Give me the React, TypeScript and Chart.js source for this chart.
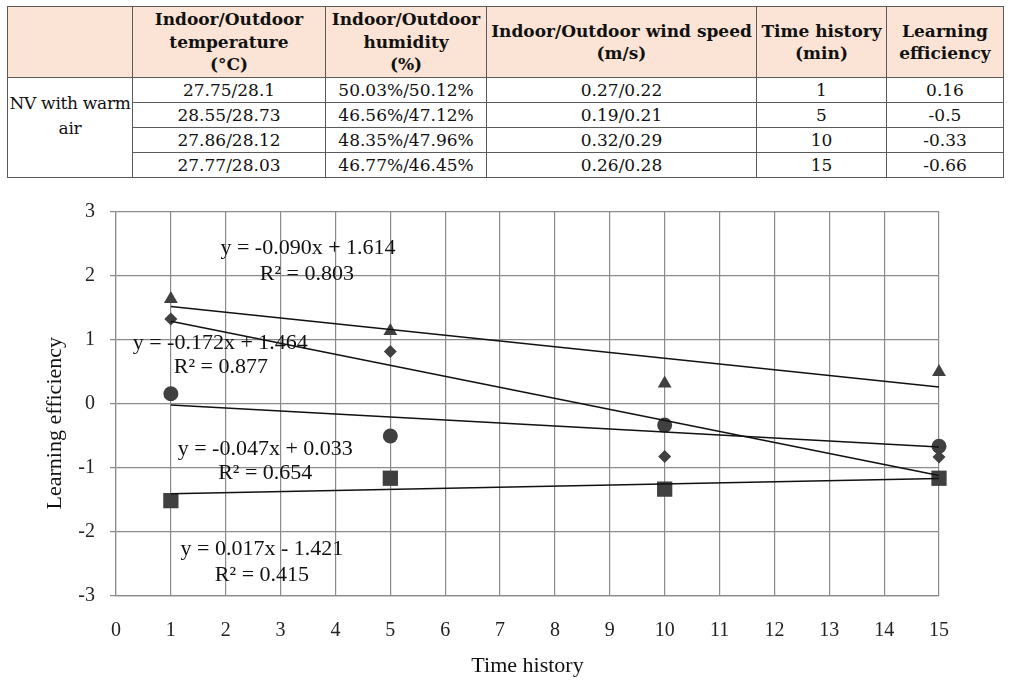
import React, { useEffect, useRef } from "react";
import { Chart, registerables } from "chart.js";

Chart.register(...registerables);

// ---------- Table data ----------
const tableHeaders = [
  "",
  "Indoor/Outdoor\ntemperature\n(°C)",
  "Indoor/Outdoor\nhumidity\n(%)",
  "Indoor/Outdoor wind speed\n(m/s)",
  "Time history\n(min)",
  "Learning\nefficiency",
];
const conditionLabel = ["NV with warm", "air"];
const temperatureValues = ["27.75/28.1", "28.55/28.73", "27.86/28.12", "27.77/28.03"];
const humidityValues = ["50.03%/50.12%", "46.56%/47.12%", "48.35%/47.96%", "46.77%/46.45%"];
const windSpeedValues = ["0.27/0.22", "0.19/0.21", "0.32/0.29", "0.26/0.28"];
const timeHistoryValues = ["1", "5", "10", "15"];
const efficiencyValues = ["0.16", "-0.5", "-0.33", "-0.66"];

// ---------- Chart data ----------
const timeHistory = [1, 5, 10, 15];
const triangleValues = [1.64, 1.14, 0.32, 0.5];
const diamondValues = [1.33, 0.82, -0.82, -0.83];
const circleValues = [0.16, -0.5, -0.33, -0.66];
const squareValues = [-1.51, -1.16, -1.33, -1.16];

const trendSlopes = [-0.09, -0.172, -0.047, 0.017];
const trendIntercepts = [1.614, 1.464, 0.033, -1.421];
const trendRange = [1, 15];

const equationTexts = [
  "y = -0.090x + 1.614",
  "R² = 0.803",
  "y = -0.172x + 1.464",
  "R² = 0.877",
  "y = -0.047x + 0.033",
  "R² = 0.654",
  "y = 0.017x - 1.421",
  "R² = 0.415",
];
// label anchor positions, in data units
const equationX = [3.5, 3.48, 1.9, 1.91, 2.72, 2.72, 2.66, 2.66];
const equationY = [2.44, 2.03, 0.95, 0.58, -0.7, -1.08, -2.27, -2.67];

const xTitle = "Time history";
const yTitle = "Learning efficiency";

const MARK = "#404040";
const GRID = "#8a8a8a";
const SERIF = '"Liberation Serif", "Times New Roman", serif';

const toPoints = (vals: number[]) => timeHistory.map((t, i) => ({ x: t, y: vals[i] }));
const trendPoints = (k: number) =>
  trendRange.map((t) => ({ x: t, y: trendSlopes[k] * t + trendIntercepts[k] }));

const labelPlugin = {
  id: "eqLabels",
  afterDatasetsDraw(chart: any) {
    const { ctx, scales, chartArea } = chart;
    const xs = scales.x;
    const ys = scales.y;
    ctx.save();
    ctx.fillStyle = "#111";
    ctx.textAlign = "center";
    ctx.textBaseline = "middle";
    ctx.font = `22px ${SERIF}`;
    equationTexts.forEach((t, i) => {
      ctx.fillText(t, xs.getPixelForValue(equationX[i]), ys.getPixelForValue(equationY[i]));
    });
    ctx.translate(chartArea.left - 61, ys.getPixelForValue(-0.3));
    ctx.rotate(-Math.PI / 2);
    ctx.fillText(yTitle, 0, 0);
    ctx.restore();
  },
};

function ScatterChart() {
  const ref = useRef<HTMLCanvasElement | null>(null);
  useEffect(() => {
    if (!ref.current) return;
    const trendStyle = {
      type: "line" as const,
      showLine: true,
      borderColor: "#111",
      borderWidth: 1.5,
      pointRadius: 0,
      fill: false,
      clip: false,
    };
    const markStyle = {
      backgroundColor: MARK,
      borderColor: MARK,
      borderWidth: 0,
      clip: false,
    };
    const chart = new Chart(ref.current, {
      type: "scatter",
      data: {
        datasets: [
          { ...trendStyle, label: "trend triangle", data: trendPoints(0) },
          { ...trendStyle, label: "trend diamond", data: trendPoints(1) },
          { ...trendStyle, label: "trend circle", data: trendPoints(2) },
          { ...trendStyle, label: "trend square", data: trendPoints(3) },
          { ...markStyle, label: "triangle", data: toPoints(triangleValues), pointStyle: "triangle", pointRadius: 8 },
          { ...markStyle, label: "diamond", data: toPoints(diamondValues), pointStyle: "rectRot", pointRadius: 6.5 },
          { ...markStyle, label: "circle", data: toPoints(circleValues), pointStyle: "circle", pointRadius: 7.5 },
          { ...markStyle, label: "square", data: toPoints(squareValues), pointStyle: "rect", pointRadius: 10.8 },
        ],
      },
      options: {
        animation: false,
        responsive: false,
        layout: { padding: { top: 27, right: 72, left: 0, bottom: 0 } },
        plugins: {
          legend: { display: false },
          tooltip: { enabled: false },
        },
        scales: {
          x: {
            type: "linear",
            min: 0,
            max: 15,
            ticks: {
              stepSize: 1,
              padding: 23,
              color: "#222",
              font: { family: SERIF, size: 20 },
            },
            grid: { color: GRID, lineWidth: 1.2, drawTicks: false },
            border: { color: GRID, width: 1.2 },
            title: {
              display: true,
              text: xTitle,
              color: "#111",
              font: { family: SERIF, size: 22 },
              padding: { top: 0, bottom: 6 },
            },
            afterFit: (s: any) => {
              s.height = 89;
            },
          },
          y: {
            type: "linear",
            min: -3,
            max: 3,
            ticks: {
              stepSize: 1,
              padding: 15,
              color: "#222",
              font: { family: SERIF, size: 20 },
            },
            grid: { color: GRID, lineWidth: 1.2, tickLength: 6 },
            border: { color: GRID, width: 1.2 },
            afterFit: (s: any) => {
              s.width = 116;
            },
          },
        },
      },
      plugins: [labelPlugin],
    } as any);
    return () => chart.destroy();
  }, []);
  return (
    <canvas
      ref={ref}
      width={1011}
      height={500}
      style={{ position: "absolute", left: 0, top: 185, width: 1011, height: 500 }}
    />
  );
}

const colWidths = [125, 193, 161, 270, 130, 117];

const cellBase: React.CSSProperties = {
  border: "1px solid #5a5a5a",
  padding: 0,
  textAlign: "center",
  verticalAlign: "middle",
};

export default function App() {
  const rows = temperatureValues.map((_, i) => [
    temperatureValues[i],
    humidityValues[i],
    windSpeedValues[i],
    timeHistoryValues[i],
    efficiencyValues[i],
  ]);
  return (
    <div
      style={{
        position: "absolute",
        left: 0,
        top: 0,
        width: 1011,
        height: 685,
        overflow: "hidden",
        background: "#fff",
      }}
    >
      <table
        style={{
          position: "absolute",
          left: 7,
          top: 6,
          width: 996,
          borderCollapse: "collapse",
          tableLayout: "fixed",
          fontFamily: '"DejaVu Serif", serif',
          fontSize: 17,
          color: "#111",
        }}
      >
        <colgroup>
          {colWidths.map((w, i) => (
            <col key={i} style={{ width: w }} />
          ))}
        </colgroup>
        <thead>
          <tr style={{ height: 71, background: "#fbe4d5" }}>
            {tableHeaders.map((h, i) => (
              <th
                key={i}
                style={{ ...cellBase, fontWeight: "bold", whiteSpace: "pre-line", lineHeight: "22.5px" }}
              >
                {h}
              </th>
            ))}
          </tr>
        </thead>
        <tbody>
          {rows.map((r, i) => (
            <tr key={i} style={{ height: 25 }}>
              {i === 0 && (
                <td
                  rowSpan={4}
                  style={{
                    ...cellBase,
                    verticalAlign: "top",
                    paddingTop: 13,
                    lineHeight: "25px",
                    whiteSpace: "nowrap",
                    letterSpacing: -0.3,
                  }}
                >
                  {conditionLabel[0]}
                  <br />
                  {conditionLabel[1]}
                </td>
              )}
              {r.map((v, j) => (
                <td key={j} style={{ ...cellBase, lineHeight: "22px" }}>
                  {v}
                </td>
              ))}
            </tr>
          ))}
        </tbody>
      </table>
      <ScatterChart />
    </div>
  );
}
